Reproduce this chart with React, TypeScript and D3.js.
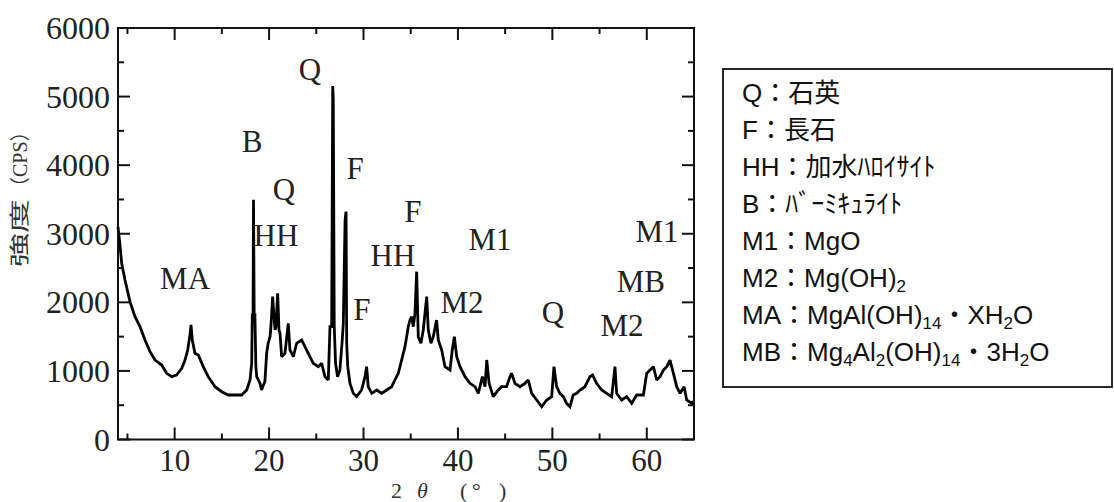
import React from "react";
import * as d3 from "d3";

// ---- data ----
const twoTheta: number[] = [
  4.0, 4.2, 4.39, 4.74, 5.27, 5.8, 6.33, 6.86, 7.39, 7.92, 8.63, 9.16, 9.69, 10.2, 10.75, 11.1, 11.38, 11.62, 11.73, 11.87,
  12.15, 12.5, 13.03, 13.56, 14.27, 14.98, 15.68, 16.39, 17.1, 17.63, 17.98, 18.16, 18.22, 18.3, 18.35, 18.42, 18.5, 18.6,
  18.69, 19.04, 19.2, 19.56, 19.74, 19.9, 20.1, 20.17, 20.38, 20.52, 20.63, 20.73, 20.91, 21.05, 21.16, 21.33, 21.68, 22.03,
  22.21, 22.57, 22.92, 23.45, 23.8, 24.15, 24.68, 25.21, 25.57, 25.92, 26.27, 26.45, 26.63, 26.74, 26.8, 26.9, 27.04, 27.25,
  27.5, 27.75, 27.86, 28.05, 28.15, 28.22, 28.33, 28.57, 28.92, 29.27, 29.8, 30.16, 30.33, 30.5, 30.87, 31.4, 31.92, 32.45,
  32.98, 33.33, 33.68, 34.04, 34.39, 34.57, 34.74, 34.92, 35.1, 35.27, 35.45, 35.63, 35.8, 36.08, 36.33, 36.69, 36.86, 37.14,
  37.39, 37.74, 37.92, 38.28, 38.63, 39.16, 39.4, 39.62, 39.87, 40.22, 40.75, 41.28, 41.81, 42.16, 42.59, 42.87, 43.05, 43.3,
  43.74, 44.27, 44.62, 45.15, 45.51, 45.68, 46.04, 46.57, 47.1, 47.45, 47.81, 48.34, 48.87, 49.4, 49.93, 50.17, 50.45, 50.8,
  51.16, 51.51, 51.86, 52.21, 52.57, 52.93, 53.45, 53.98, 54.26, 54.68, 55.22, 55.75, 56.28, 56.63, 56.81, 57.34, 57.87, 58.4,
  58.93, 59.64, 59.99, 60.34, 60.7, 61.05, 61.4, 61.76, 62.11, 62.46, 62.82, 63.17, 63.52, 63.95, 64.23, 64.76, 65.0,
];
const intensity: number[] = [
  3100, 2850, 2569, 2326, 2010, 1791, 1645, 1451, 1280, 1159, 1086, 965, 916, 940, 1038, 1159, 1305, 1524, 1670, 1451,
  1257, 1232, 1062, 916, 770, 697, 649, 649, 649, 722, 868, 1111, 1815, 1815, 3494, 1815, 1815, 1062,
  916, 819, 722, 850, 1257, 1403, 1499, 1597, 2083, 1791, 1597, 1645, 2132, 1597, 1548, 1208, 1257, 1694,
  1305, 1208, 1403, 1451, 1353, 1257, 1111, 1062, 1111, 916, 868, 1645, 1645, 5153, 4950, 1645, 1111, 916,
  1013, 1451, 1694, 3200, 3323, 1403, 1062, 819, 673, 624, 722, 916, 1062, 770, 673, 722, 673, 722,
  770, 868, 965, 1159, 1353, 1499, 1645, 1742, 1791, 1645, 1840, 2447, 1499, 1403, 1597, 2083, 1597, 1403,
  1499, 1742, 1451, 1305, 1062, 1013, 1305, 1499, 1208, 1062, 916, 819, 770, 673, 916, 770, 1159, 819,
  624, 722, 770, 770, 916, 965, 819, 770, 819, 868, 673, 576, 478, 576, 624, 1062, 770, 673,
  624, 527, 478, 649, 673, 722, 770, 916, 940, 819, 722, 673, 624, 1062, 673, 576, 624, 527,
  649, 649, 965, 1013, 1062, 868, 916, 1013, 1062, 1159, 965, 770, 673, 770, 576, 527, 560,
];

const xMajorTicks: number[] = [10, 20, 30, 40, 50, 60];
const xMinorTicks: number[] = [5, 15, 25, 35, 45, 55];
const yMajorTicks: number[] = [0, 1000, 2000, 3000, 4000, 5000, 6000];
const yMinorTicks: number[] = [500, 1500, 2500, 3500, 4500, 5500];

// peak annotations (2θ, intensity position, label)
const peakLabelText: string[] = ["MA", "B", "Q", "HH", "Q", "F", "F", "HH", "F", "M2", "M1", "Q", "M2", "MB", "M1"];
const peakLabelX: number[] = [11.1, 18.19, 21.58, 20.73, 24.33, 29.1, 35.24, 33.12, 29.84, 40.43, 43.39, 50.07, 57.37, 59.38, 61.08];
const peakLabelY: number[] = [2195, 4192, 3492, 2822, 5242, 3799, 3171, 2530, 1742, 1845, 2763, 1699, 1509, 2151, 2880];

// legend rows: segments [text, isSubscript]
const legendRows: [string, boolean][][] = [
  [["Q：石英", false]],
  [["F：長石", false]],
  [["HH：加水ﾊﾛｲｻｲﾄ", false]],
  [["B：ﾊﾞｰﾐｷｭﾗｲﾄ", false]],
  [["M1：MgO", false]],
  [["M2：Mg(OH)", false], ["2", true]],
  [["MA：MgAl(OH)", false], ["14", true], ["・XH", false], ["2", true], ["O", false]],
  [["MB：Mg", false], ["4", true], ["Al", false], ["2", true], ["(OH)", false], ["14", true], ["・3H", false], ["2", true], ["O", false]],
];

const SERIF = "'Liberation Serif', 'Times New Roman', serif";
const SANS = "'Liberation Sans', Arial, 'Noto Sans CJK JP', sans-serif";
const CJK_SERIF = "'Liberation Serif', 'Times New Roman', 'Noto Sans CJK JP', serif";

export default function App() {
  const W = 1114;
  const H = 502;
  const x = d3.scaleLinear().domain([4, 65]).range([118, 694]);
  const y = d3.scaleLinear().domain([0, 6000]).range([439.5, 28]);

  const pts: [number, number][] = twoTheta.map((t, i) => [t, intensity[i]]);
  const line = d3
    .line<[number, number]>()
    .x((d) => x(d[0]))
    .y((d) => y(d[1]));

  const left = x(4);
  const right = x(65);
  const top = y(6000);
  const bottom = y(0);

  const majorLen = 12;
  const minorLen = 6;

  const legendX = 742;
  const legendY0 = 102;
  const legendStep = 37;

  return (
    <svg
      width={W}
      height={H}
      viewBox={`0 0 ${W} ${H}`}
      style={{ position: "absolute", left: 0, top: 0, background: "#fff" }}
    >
      <rect x={0} y={0} width={W} height={H} fill="#fff" />

      {/* data line */}
      <path d={line(pts) || ""} fill="none" stroke="#000" strokeWidth={2.8} strokeLinejoin="miter" strokeMiterlimit={2} />

      {/* frame */}
      <rect x={left} y={top} width={right - left} height={bottom - top} fill="none" stroke="#111" strokeWidth={2} />

      {/* x ticks */}
      {xMajorTicks.map((t) => (
        <g key={"xM" + t}>
          <line x1={x(t)} x2={x(t)} y1={bottom} y2={bottom - majorLen} stroke="#111" strokeWidth={2} />
          <line x1={x(t)} x2={x(t)} y1={top} y2={top + majorLen} stroke="#111" strokeWidth={2} />
          <text x={x(t)} y={471} textAnchor="middle" fontFamily={SERIF} fontSize={31} fill="#222">
            {t}
          </text>
        </g>
      ))}
      {xMinorTicks.map((t) => (
        <g key={"xm" + t}>
          <line x1={x(t)} x2={x(t)} y1={bottom} y2={bottom - minorLen} stroke="#111" strokeWidth={2} />
          <line x1={x(t)} x2={x(t)} y1={top} y2={top + minorLen} stroke="#111" strokeWidth={2} />
        </g>
      ))}

      {/* y ticks */}
      {yMajorTicks.map((t) => (
        <g key={"yM" + t}>
          <line x1={left} x2={left + majorLen} y1={y(t)} y2={y(t)} stroke="#111" strokeWidth={2} />
          <line x1={right} x2={right - majorLen} y1={y(t)} y2={y(t)} stroke="#111" strokeWidth={2} />
          <text
            x={110}
            y={y(t) + 11}
            textAnchor="end"
            fontFamily={SERIF}
            fontSize={32}
            fill="#222"
          >
            {t}
          </text>
        </g>
      ))}
      {yMinorTicks.map((t) => (
        <g key={"ym" + t}>
          <line x1={left} x2={left + minorLen} y1={y(t)} y2={y(t)} stroke="#111" strokeWidth={2} />
          <line x1={right} x2={right - minorLen} y1={y(t)} y2={y(t)} stroke="#111" strokeWidth={2} />
        </g>
      ))}

      {/* peak labels */}
      {peakLabelText.map((s, i) => (
        <text
          key={"pl" + i}
          x={x(peakLabelX[i])}
          y={y(peakLabelY[i])}
          textAnchor="middle"
          fontFamily={SERIF}
          fontSize={31}
          fill="#222"
        >
          {s}
        </text>
      ))}

      {/* y axis title */}
      <g transform="translate(27,267) rotate(-90)">
        <text x={0} y={0} fontFamily={CJK_SERIF} fontSize={20} fill="#333" textLength={68} lengthAdjust="spacingAndGlyphs">
          強度
        </text>
        <text x={70} y={0} fontFamily={CJK_SERIF} fontSize={20} fill="#333">
          （CPS）
        </text>
      </g>

      {/* x axis title */}
      <text y={498} fontFamily={SERIF} fontSize={22} fill="#333">
        <tspan x={391}>2</tspan>
        <tspan x={417} fontStyle="italic">θ</tspan>
        <tspan x={460}>(</tspan>
        <tspan x={472}>°</tspan>
        <tspan x={499}>)</tspan>
      </text>

      {/* legend */}
      <rect x={723} y={69} width={389} height={318} fill="#fff" stroke="#111" strokeWidth={1.8} />
      {legendRows.map((row, i) => (
        <text key={"lg" + i} x={legendX} y={legendY0 + i * legendStep} fontFamily={SANS} fontSize={26} fill="#111">
          {row.map((seg, j) =>
            seg[1] ? (
              <tspan key={j} fontSize={17} dy={5}>
                {seg[0]}
              </tspan>
            ) : (
              <tspan key={j} dy={j > 0 && row[j - 1][1] ? -5 : 0}>
                {seg[0]}
              </tspan>
            )
          )}
        </text>
      ))}
    </svg>
  );
}
